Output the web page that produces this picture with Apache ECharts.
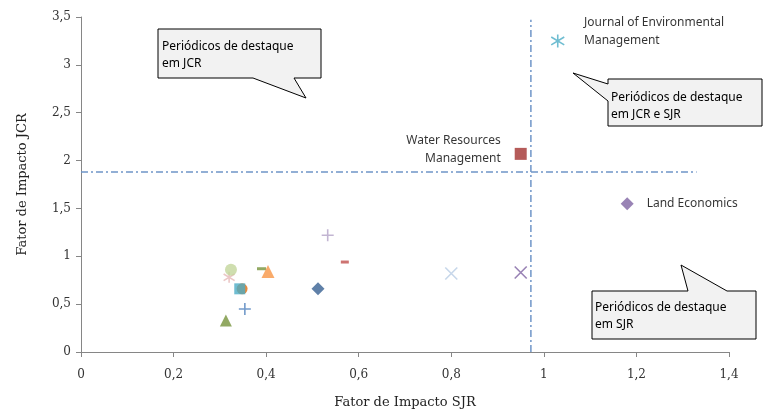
<!DOCTYPE html>
<html><head><meta charset="utf-8">
<script src="https://cdn.jsdelivr.net/npm/echarts@6/dist/echarts.min.js"></script>
<style>html,body{margin:0;padding:0;background:#fff}#c{width:766px;height:417px}</style>
</head><body><div id="c"></div>
<script>
// Data
var journals = ['Journal of Environmental Management','Water Resources Management','Land Economics','J4','J5','J6','J7','J8','J9','J10','J11','J12','J13','J14','J15','J16'];
var sjr = [1.03, 0.95, 1.18, 0.80, 0.95, 0.533, 0.57, 0.512, 0.404, 0.39, 0.324, 0.32, 0.348, 0.343, 0.354, 0.313];
var jcr = [3.25, 2.07, 1.55, 0.82, 0.83, 1.22, 0.94, 0.66, 0.84, 0.87, 0.86, 0.78, 0.66, 0.66, 0.45, 0.33];
var pointLabels = ['Journal of Environmental\nManagement', 'Water Resources\nManagement', 'Land Economics', '', '', '', '', '', '', '', '', '', '', '', '', ''];
var thresholdSJR = 0.972, thresholdJCR = 1.88, hLineEnd = 1.33;
var xTicks = {min: 0, max: 1.4, interval: 0.2};
var yTicks = {min: 0, max: 3.5, interval: 0.5};

// Styles
var P_X = 'path://M0,0L10,10M10,0L0,10';
var P_PLUS = 'path://M5,0L5,10M0,5L10,5';
var P_AST = 'path://M5,0L5,10M0.8,2L9.2,8M0.8,8L9.2,2';
var styles = [
  {s: P_AST, c: '#4bacc6', z: 13, stroke: true},
  {s: 'rect', c: '#a3322f', z: 12},
  {s: 'diamond', c: '#8064a2', z: 13},
  {s: P_X, c: '#b9cde5', z: 12, stroke: true},
  {s: P_X, c: '#8064a2', z: 12, stroke: true},
  {s: P_PLUS, c: '#b3a2c7', z: 12, stroke: true},
  {s: 'rect', c: '#c0504d', z: [8, 3]},
  {s: 'diamond', c: '#376092', z: 13},
  {s: 'triangle', c: '#f79646', z: 13},
  {s: 'rect', c: '#77933c', z: [9, 3]},
  {s: 'circle', c: '#c3d69b', z: 12},
  {s: P_AST, c: '#e6b9b8', z: 11, stroke: true},
  {s: 'circle', c: '#e46c0a', z: 11},
  {s: 'rect', c: '#4bacc6', z: 11},
  {s: P_PLUS, c: '#4f81bd', z: 12, stroke: true},
  {s: 'triangle', c: '#77933c', z: 12}
];
var labelCfg = [
  {position: 'right', distance: 19, offset: [0, -9], align: 'left'},
  {position: 'left', distance: 14, offset: [0, -4], align: 'right'},
  {position: 'right', distance: 13, offset: [0, 0], align: 'left'}
];
var fmt = function (v) { return String(Math.round(v * 10) / 10).replace('.', ','); };
var noteFont = 'Noto Sans';

var series = [];
var order = [0,1,2,3,4,5,6,7,9,8,11,10,12,13,14,15];
order.forEach(function (i) {
  var st = styles[i];
  var lc = labelCfg[i];
  series.push({
    type: 'scatter',
    name: journals[i],
    symbol: st.s,
    symbolSize: st.z,
    itemStyle: st.stroke ? {color: 'rgba(0,0,0,0)', borderColor: st.c, borderWidth: 1.6} : {color: st.c},
    label: lc ? {show: true, formatter: pointLabels[i], position: lc.position, distance: lc.distance, offset: lc.offset, align: lc.align,
      fontFamily: noteFont, fontSize: 12, color: '#000', lineHeight: 18} : {show: false},
    data: [[sjr[i], jcr[i]]],
    z: 3
  });
});
series.push({
  type: 'line', symbol: 'none', silent: true, z: 2,
  lineStyle: {color: '#6f95c8', width: 1.5, type: [7, 3, 2, 3]},
  data: [[0, thresholdJCR], [hLineEnd, thresholdJCR]]
});
series.push({
  type: 'line', symbol: 'none', silent: true, z: 2,
  lineStyle: {color: '#6f95c8', width: 1.5, type: [7, 3, 2, 3]},
  data: [[thresholdSJR, 0], [thresholdSJR, yTicks.max - 0.03]]
});

function callout(points, textX, textY, text) {
  return [
    {type: 'polygon', shape: {points: points}, style: {fill: '#f2f2f2', stroke: '#000', lineWidth: 1}, z: 10},
    {type: 'text', x: textX, y: textY, style: {text: text, fontFamily: noteFont, fontSize: 12, fill: '#000', lineHeight: 17, textVerticalAlign: 'top'}, z: 11}
  ];
}
var graphics = [].concat(
  callout([[158,29],[321,29],[321,78],[294,78],[306,98],[253,78],[158,78]], 162, 38, 'Periódicos de destaque\nem JCR'),
  callout([[608,79],[762,79],[762,126],[608,126],[608,101],[573,73],[608,84]], 611, 89, 'Periódicos de destaque\nem JCR e SJR'),
  callout([[592,291],[688,291],[681,265],[727,291],[756,291],[756,339],[592,339]], 595, 299, 'Periódicos de destaque\nem SJR')
);

var axisFont = {fontFamily: 'DejaVu Serif', fontSize: 12, color: '#333'};
var chart = echarts.init(document.getElementById('c'));
chart.setOption({
  animation: false,
  backgroundColor: '#fff',
  grid: {left: 81, right: 37, top: 17, bottom: 65},
  xAxis: {
    type: 'value', min: xTicks.min, max: xTicks.max, interval: xTicks.interval,
    name: 'Fator de Impacto SJR', nameLocation: 'middle', nameGap: 44,
    nameTextStyle: {fontFamily: 'DejaVu Serif', fontSize: 13, color: '#222'},
    axisLine: {show: true, lineStyle: {color: '#868686'}},
    axisTick: {show: true, length: 5, lineStyle: {color: '#868686'}},
    splitLine: {show: false},
    axisLabel: Object.assign({margin: 17, formatter: fmt}, axisFont)
  },
  yAxis: {
    type: 'value', min: yTicks.min, max: yTicks.max, interval: yTicks.interval,
    name: 'Fator de Impacto JCR', nameLocation: 'middle', nameGap: 52,
    nameTextStyle: {fontFamily: 'DejaVu Serif', fontSize: 13, color: '#222'},
    axisLine: {show: true, lineStyle: {color: '#868686'}},
    axisTick: {show: true, length: 5, lineStyle: {color: '#868686'}},
    splitLine: {show: false},
    axisLabel: Object.assign({margin: 10, formatter: fmt}, axisFont)
  },
  series: series,
  graphic: graphics
});
</script></body></html>
